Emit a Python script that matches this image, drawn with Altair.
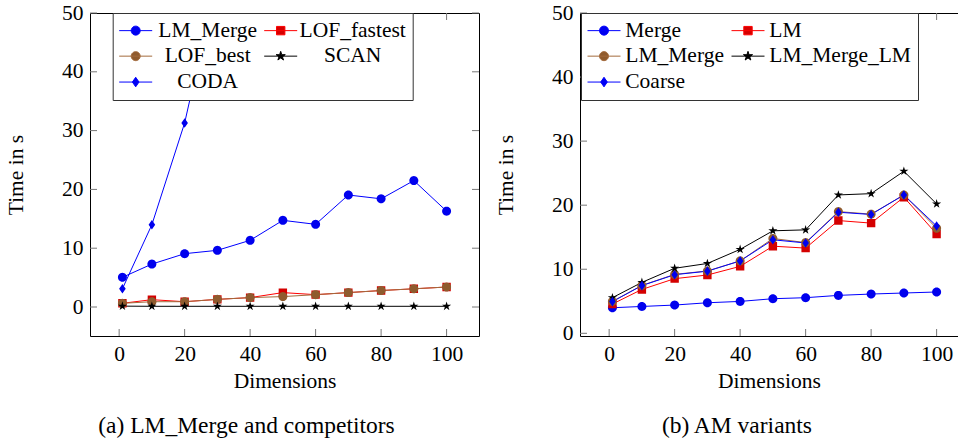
import math
import altair as alt
import pandas as pd

FONT = "Liberation Serif"
FS = 21.5
CAP_FS = 23.5

# ---------------- data ----------------
dims = [1, 10, 20, 30, 40, 50, 60, 70, 80, 90, 100]
coda_dims = [1, 10, 20, 30]

a_names = ["LM_Merge", "LOF_fastest", "LOF_best", "SCAN", "CODA"]
a_lm_merge = [5.05, 7.3, 9.07, 9.64, 11.34, 14.74, 14.06, 19.05, 18.4, 21.5, 16.3]
a_lof_fastest = [0.63, 1.25, 0.9, 1.3, 1.6, 2.45, 2.1, 2.45, 2.8, 3.1, 3.4]
a_lof_best = [0.63, 0.9, 0.9, 1.3, 1.6, 1.77, 2.1, 2.45, 2.8, 3.1, 3.4]
a_scan = [0.15, 0.12, 0.12, 0.12, 0.12, 0.12, 0.12, 0.12, 0.12, 0.12, 0.12]
a_coda = [3.1, 14.0, 31.3, 56.0]

b_names = ["Merge", "LM", "LM_Merge", "LM_Merge_LM", "Coarse"]
b_merge = [3.99, 4.19, 4.41, 4.77, 4.98, 5.4, 5.56, 5.92, 6.13, 6.29, 6.45]
b_lm = [4.57, 6.85, 8.53, 9.1, 10.45, 13.6, 13.3, 17.6, 17.2, 21.25, 15.5]
b_lm_merge = [4.98, 7.48, 9.2, 9.73, 11.3, 14.8, 14.16, 19.0, 18.6, 21.6, 16.4]
b_lm_merge_lm = [5.56, 7.95, 10.15, 10.9, 13.1, 16.0, 16.15, 21.6, 21.8, 25.3, 20.2]
b_coarse = [4.95, 7.45, 9.15, 9.7, 11.3, 14.6, 14.1, 18.9, 18.55, 21.6, 16.75]

x_ticks = [0, 20, 40, 60, 80, 100]
y_ticks = [0, 10, 20, 30, 40, 50]

caption_a = "(a) LM_Merge and competitors"
caption_b = "(b) AM variants"

# ---------------- styles ----------------
BLUE, BLUE_F = "#0000ff", "#0000ee"
RED, RED_F = "#ff0000", "#d40000"
BROWN, BROWN_F = "#a36a3c", "#8f5b2e"
BLACK = "#000000"
TICK = "#777777"

U = 10.0          # px per symbol unit (symbol size 400)
SYM_SIZE = 400


def poly(pts):
    return "M" + "L".join(f"{x / U:.3f},{y / U:.3f}" for x, y in pts) + "Z"


STUB = f"M{-16.5 / U:.3f},0L{16.5 / U:.3f},0"


def circle(r, n=28):
    return [(r * math.cos(2 * math.pi * k / n), r * math.sin(2 * math.pi * k / n)) for k in range(n)]


def star(ro, ri):
    pts = []
    for k in range(10):
        rr = ro if k % 2 == 0 else ri
        a = math.radians(-90 + 36 * k)
        pts.append((rr * math.cos(a), rr * math.sin(a)))
    return pts


SYM_CIRCLE = STUB + poly(circle(4.5))
SYM_SQUARE = STUB + poly([(-4.2, -4.2), (4.2, -4.2), (4.2, 4.2), (-4.2, 4.2)])
SYM_DIAMOND = STUB + poly([(0, -4.8), (3.3, 0), (0, 4.8), (-3.3, 0)])
SYM_STAR = STUB + poly(star(4.8, 1.8))

PX = 389 / 118.8
H = 323


def panel(series, names, fills, strokes, shapes, xdom, ydom, width,
          right_border, legend_x, label_align, label_offset, caption, caption_dx):
    rows = []
    for name, xs, ys in series:
        for x, y in zip(xs, ys):
            rows.append({"series": name, "dim": x, "time": y})
    df = pd.DataFrame(rows)

    xsc = alt.Scale(domain=xdom, nice=False, zero=False)
    ysc = alt.Scale(domain=ydom, nice=False, zero=False)
    stroke_scale = alt.Scale(domain=names, range=strokes)
    fill_scale = alt.Scale(domain=names, range=fills)
    shape_scale = alt.Scale(domain=names, range=shapes)

    legend = alt.Legend(
        title=None, orient="none", legendX=legend_x, legendY=0, columns=2,
        direction="horizontal",
        symbolSize=SYM_SIZE, symbolOffset=5.75,
        labelAlign=label_align, labelOffset=label_offset,
        symbolStrokeWidth=1, padding=6.5, rowPadding=2.9, columnPadding=5,
        fillColor="white", strokeColor="#333333",
        labelFont=FONT, labelFontSize=FS, labelColor="black", labelLimit=400,
    )

    # legend source (first layer, draws nothing): stroked symbols = line + marker
    legend_layer = alt.Chart(df).transform_filter("false").mark_point(
        filled=True, size=SYM_SIZE, strokeWidth=1, opacity=1
    ).encode(
        x=alt.X("dim:Q", scale=xsc, axis=None),
        y=alt.Y("time:Q", scale=ysc, axis=None),
        fill=alt.Fill("series:N", scale=fill_scale, legend=legend),
        stroke=alt.Stroke("series:N", scale=stroke_scale, legend=legend),
        shape=alt.Shape("series:N", scale=shape_scale, legend=legend),
    )

    lines = alt.Chart(df).mark_line(strokeWidth=1, clip=True).encode(
        x=alt.X("dim:Q", scale=xsc,
                axis=alt.Axis(orient="bottom", values=x_ticks, title="Dimensions",
                              labelPadding=7, titlePadding=6, labelFlush=False,
                              labelOverlap=False)),
        y=alt.Y("time:Q", scale=ysc,
                axis=alt.Axis(orient="left", values=y_ticks, title="Time in s",
                              labelPadding=7, titlePadding=34, labelOverlap=False)),
        stroke=alt.Stroke("series:N", scale=stroke_scale, legend=legend),
    )

    y_pts = alt.Y("time:Q", scale=ysc,
                  axis=alt.Axis(orient="right", labels=False, title=None)) if right_border \
        else alt.Y("time:Q", scale=ysc, axis=None)

    # markers: only the filled marker part of each symbol is visible (no stroke)
    points = alt.Chart(df).mark_point(filled=True, size=SYM_SIZE, strokeWidth=0,
                                      opacity=1, clip=True).encode(
        x=alt.X("dim:Q", scale=xsc, axis=alt.Axis(orient="top", labels=False, title=None)),
        y=y_pts,
        fill=alt.Fill("series:N", scale=fill_scale, legend=legend),
        shape=alt.Shape("series:N", scale=shape_scale, legend=legend),
    )

    tx = pd.DataFrame({"t": x_ticks})
    ty = pd.DataFrame({"t": y_ticks})
    rule = dict(color=TICK, strokeWidth=1)
    tb = alt.Chart(tx).mark_rule(**rule).encode(
        x=alt.X("t:Q", scale=xsc, axis=None), y=alt.value(H), y2=alt.value(H - 7))
    tt = alt.Chart(tx).mark_rule(**rule).encode(
        x=alt.X("t:Q", scale=xsc, axis=None), y=alt.value(0), y2=alt.value(7))
    tl = alt.Chart(ty).mark_rule(**rule).encode(
        y=alt.Y("t:Q", scale=ysc, axis=None), x=alt.value(0), x2=alt.value(7))
    layers = [tb, tt, tl]
    if right_border:
        tr = alt.Chart(ty).mark_rule(**rule).encode(
            y=alt.Y("t:Q", scale=ysc, axis=None), x=alt.value(width), x2=alt.value(width - 7))
        layers.append(tr)

    return alt.layer(legend_layer, lines, points, *layers).resolve_axis(
        x="independent", y="independent"
    ).properties(
        width=width, height=H,
        title=alt.TitleParams(caption, orient="bottom", anchor="middle", offset=22,
                              dx=caption_dx, font=FONT, fontSize=CAP_FS,
                              fontWeight="normal", color="black"),
    )


series_a = [
    ("LM_Merge", dims, a_lm_merge),
    ("LOF_fastest", dims, a_lof_fastest),
    ("LOF_best", dims, a_lof_best),
    ("SCAN", dims, a_scan),
    ("CODA", coda_dims, a_coda),
]
series_b = [
    ("Merge", dims, b_merge),
    ("LM", dims, b_lm),
    ("LM_Merge", dims, b_lm_merge),
    ("LM_Merge_LM", dims, b_lm_merge_lm),
    ("Coarse", dims, b_coarse),
]

panel_a = panel(series_a, a_names,
                [BLUE_F, RED_F, BROWN_F, BLACK, BLUE_F],
                [BLUE, RED, BROWN, BLACK, BLUE],
                [SYM_CIRCLE, SYM_SQUARE, SYM_CIRCLE, SYM_STAR, SYM_DIAMOND],
                [-8.9, 109.9], [-4.93, 50], 389, True, 22.7,
                "center", 61.2, caption_a, -38)

WB = round((106.5 + 8.9) * PX, 1)
panel_b = panel(series_b, b_names,
                [BLUE_F, RED_F, BROWN_F, BLACK, BLUE_F],
                [BLUE, RED, BROWN, BLACK, BLUE],
                [SYM_CIRCLE, SYM_SQUARE, SYM_CIRCLE, SYM_STAR, SYM_DIAMOND],
                [-8.9, 106.5], [-0.42, 50], WB, False, 1,
                "left", 10.5, caption_b, -32)

chart = alt.hconcat(panel_a, panel_b, spacing=15).resolve_scale(
    x="independent", y="independent",
    fill="independent", stroke="independent", shape="independent",
).resolve_legend(
    fill="independent", stroke="independent", shape="independent",
).properties(
    padding={"left": 5, "top": 2, "right": 0, "bottom": 0},
    background="white",
).configure_view(stroke=None).configure_axis(
    labelFont=FONT, titleFont=FONT, labelFontSize=FS, titleFontSize=FS,
    titleFontWeight="normal", labelColor="black", titleColor="black",
    grid=False, ticks=False, domainColor="black", domainWidth=1,
)

chart.save("out.html", embed_options={"renderer": "svg", "actions": False})
